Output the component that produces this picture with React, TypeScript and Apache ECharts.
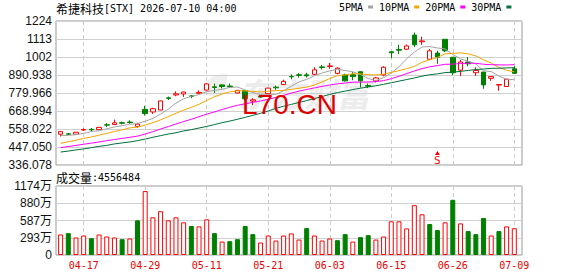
import React, { useEffect, useRef } from 'react';
import * as echarts from 'echarts';

const stockName = '希捷科技';
const titleRest = '[STX] 2026-07-10 04:00';
const volumeTitle = '成交量';

const dates = ['04-14','04-15','04-16','04-17','04-20','04-21','04-22','04-23','04-24','04-27','04-28','04-29','04-30','05-01','05-04','05-05','05-06','05-07','05-08','05-11','05-12','05-13','05-14','05-15','05-18','05-19','05-20','05-21','05-22','05-26','05-27','05-28','05-29','06-01','06-02','06-03','06-04','06-05','06-08','06-09','06-10','06-11','06-12','06-15','06-16','06-17','06-18','06-22','06-23','06-24','06-25','06-26','06-29','06-30','07-01','07-02','07-06','07-07','07-08','07-09'];
const xLabelDates = ['04-17','04-29','05-11','05-21','06-03','06-15','06-26','07-09'];

const opens = [526,528,526,552,556,554,584,586,597,601,574,679,663,675,750,768,774,762,778,798,818,830,823,780,796,730,758,776,816,832,882,892,892,895,941,943,901,891,893,911,826,855,891,1034,1048,1050,1137,1096,988,1026,1111,1000,921,971,905,909,871,829,820,929];
const closes = [542,526,538,554,553,568,582,596,594,598,588,653,683,731,747,775,786,760,784,836,814,820,818,796,744,738,755,810,812,852,880,889,886,923,937,947,933,855,881,855,822,873,939,1028,1044,1070,1077,1101,1040,1000,1040,905,971,960,919,830,881,832,865,901];
const lows = [512,521,524,546,544,552,570,584,586,590,566,641,651,674,737,760,756,748,778,796,780,808,814,776,734,705,752,774,800,830,865,875,875,891,925,929,895,851,859,814,810,845,883,996,1020,1046,1063,1077,984,960,1032,891,885,945,885,806,855,794,818,899];
const highs = [543,533,540,562,564,570,594,616,604,612,596,701,689,732,758,790,788,768,796,840,838,832,838,800,798,748,760,812,826,862,895,903,905,939,953,966,939,899,909,915,838,879,945,1036,1077,1079,1153,1127,1050,1040,1113,1002,984,1002,939,911,885,834,867,945];

// volume in 万 (10,000 shares)
const volumesWan = [349,372,298,332,286,349,315,298,269,281,590,1088,641,745,590,641,556,493,487,607,372,229,235,269,493,355,212,332,246,332,367,263,458,332,246,281,252,355,229,304,338,263,315,573,573,452,848,693,527,424,556,939,538,407,355,630,332,407,487,455.6484];

const ma5Lead = [517,519,523,531];
const ma10Lead = [470,479,489,500,509,520,531,543,553];
const ma20Lead = [443,450,457,464,471,478,486,493,500,507,514,527,542,558,573,589,604,618,634];
const ma30Lead = [416,422,429,435,443,451,457,466,472,478,486,496,507,517,527,535,546,554,564,574,585,597,607,618,630,642,655,669,685];

const priceTicks = [336.078,447.05,558.022,668.994,779.966,890.938,1001.91,1112.882,1223.854];
const priceTickLabels = ['336.078','447.050','558.022','668.994','779.966','890.938','1002','1113','1224'];
const volTickLabels = ['0','293万','587万','880万','1174万'];

const maNames = ['5PMA','10PMA','20PMA','30PMA'];
const maColors = ['#a3a3a3','#f5a500','#ff00ff','#00703c'];
const splitMarkIndex = 49;

const UP = '#ff0000';
const DOWN = '#008000';
const MONO = '"DejaVu Sans Mono", monospace';
const CJK = '"Noto Sans CJK SC", sans-serif';
const SANS = '"Liberation Sans", "Noto Sans CJK SC", sans-serif';

function movingAverage(n: number, lead: number[]) {
  return closes.map((_, i) => {
    if (i < n - 1) return lead[i];
    let s = 0;
    for (let k = i - n + 1; k <= i; k++) s += closes[k];
    return +(s / n).toFixed(3);
  });
}

export default function App() {
  const ref = useRef<HTMLDivElement>(null);
  useEffect(() => {
    const chart = echarts.init(ref.current!, undefined, { renderer: 'svg', width: 578, height: 276 });
    const mas = [movingAverage(5, ma5Lead), movingAverage(10, ma10Lead), movingAverage(20, ma20Lead), movingAverage(30, ma30Lead)];
    const xTickIdx = xLabelDates.map((d) => dates.indexOf(d));
    const lastVol = Math.round(volumesWan[volumesWan.length - 1] * 10000);

    const xBase = {
      type: 'value' as const,
      min: -0.6,
      max: 60,
      axisLine: { show: false },
      axisTick: { show: false, customValues: xTickIdx },
      splitLine: { show: true, lineStyle: { color: '#cccccc', type: [4, 3] as any, width: 1 } },
    };

    const richTitle = {
      c: { fontFamily: CJK, fontSize: 12, color: '#000', fontWeight: 'normal' },
      m: { fontFamily: MONO, fontSize: 10, color: '#000', fontWeight: 'normal' },
    };

    const option: any = {
      animation: false,
      backgroundColor: '#ffffff',
      title: [
        {
          text: `{c|${stockName}}{m|${titleRest}}`,
          left: 56, top: 2, padding: 0,
          textStyle: { fontWeight: 'normal', rich: richTitle },
        },
        {
          text: `{c|${volumeTitle}}{m|:${lastVol}}`,
          left: 56, top: 171, padding: 0,
          textStyle: { fontWeight: 'normal', rich: richTitle },
        },
      ],
      legend: {
        data: maNames,
        left: 339, top: 2, padding: 0,
        itemWidth: 5, itemHeight: 3, itemGap: 6,
        align: 'right', icon: 'rect', selectedMode: false,
        textStyle: { fontFamily: MONO, fontSize: 10, color: '#000' },
      },
      grid: [
        { left: 56, right: 56, top: 21, height: 144, show: true, borderColor: '#999999', borderWidth: 1 },
        { left: 56, right: 56, top: 186, height: 69, show: true, borderColor: '#999999', borderWidth: 1 },
      ],
      xAxis: [
        { ...xBase, gridIndex: 0, axisLabel: { show: false, customValues: xTickIdx } },
        {
          ...xBase, gridIndex: 1,
          axisLabel: {
            show: true, customValues: xTickIdx, margin: 5,
            formatter: (v: number) => dates[Math.round(v)],
            color: '#ee0000', fontFamily: MONO, fontSize: 10,
          },
        },
      ],
      yAxis: [
        {
          type: 'value', gridIndex: 0, min: priceTicks[0], max: priceTicks[priceTicks.length - 1],
          axisLine: { show: false },
          axisTick: { show: false, customValues: priceTicks },
          axisLabel: {
            customValues: priceTicks, margin: 4, color: '#111', fontFamily: SANS, fontSize: 12,
            formatter: (v: number) => {
              let best = 0;
              priceTicks.forEach((t, i) => { if (Math.abs(t - v) < Math.abs(priceTicks[best] - v)) best = i; });
              return priceTickLabels[best];
            },
          },
          splitLine: { show: true, lineStyle: { color: '#d0d0d0', width: 1 } },
        },
        {
          type: 'value', gridIndex: 1, min: 0, max: 1174, interval: 293.5,
          axisLine: { show: false }, axisTick: { show: false },
          axisLabel: {
            margin: 4, color: '#111', fontFamily: SANS, fontSize: 12,
            formatter: (_v: number, idx: number) => volTickLabels[idx],
          },
          splitLine: { show: true, lineStyle: { color: '#d0d0d0', width: 1 } },
        },
      ],
      series: [
        {
          type: 'candlestick', name: 'K', xAxisIndex: 0, yAxisIndex: 0, z: 3,
          barWidth: 5,
          data: closes.map((c, i) => [i, opens[i], c, lows[i], highs[i]]),
          itemStyle: { color: '#ffffff', color0: DOWN, borderColor: UP, borderColor0: DOWN, borderWidth: 1 },
          markPoint: {
            silent: true, animation: false,
            data: [{
              coord: [splitMarkIndex, priceTicks[0]],
              symbol: 'triangle', symbolSize: [5, 4], symbolOffset: [0, -12],
              itemStyle: { color: UP },
              label: { show: true, position: 'bottom', distance: 0, formatter: 'S', color: UP, fontSize: 11, fontFamily: MONO },
            }],
          },
        },
        ...maNames.map((name, k) => ({
          type: 'line', name, xAxisIndex: 0, yAxisIndex: 0, z: 4,
          symbol: 'none', showSymbol: false,
          data: mas[k].map((v, i) => [i, v]),
          lineStyle: { color: maColors[k], width: 1 },
          itemStyle: { color: maColors[k] },
        })),
        {
          type: 'bar', name: 'VOL', xAxisIndex: 1, yAxisIndex: 1, barWidth: 5,
          data: volumesWan.map((v, i) => {
            const up = i === 0 ? closes[0] >= opens[0] : closes[i] >= closes[i - 1];
            return {
              value: [i, v],
              itemStyle: up ? { color: '#ffffff', borderColor: UP, borderWidth: 1 } : { color: DOWN, borderColor: DOWN, borderWidth: 1 },
            };
          }),
        },
      ],
      graphic: [
        {
          type: 'sector', z: 0, silent: true,
          shape: { cx: 224, cy: 98, r: 24, r0: 5, startAngle: -Math.PI * 0.95, endAngle: -Math.PI * 0.45 },
          style: { fill: '#efefef' },
        },
        {
          type: 'text', left: 238, top: 76, z: 0, silent: true,
          style: { text: '东方财富', fontSize: 33, fontWeight: 'bold', fontStyle: 'italic', fill: '#ececec', fontFamily: CJK },
        },
        {
          type: 'text', left: 242, top: 90, z: 100, silent: true,
          style: { text: 'L70.CN', fontSize: 28, fill: '#e00000', fontFamily: '"Liberation Sans", Arial, sans-serif' },
        },
      ],
    };
    chart.setOption(option);
    return () => chart.dispose();
  }, []);
  return <div ref={ref} style={{ position: 'fixed', left: 0, top: 0, width: 578, height: 276, background: '#fff' }} />;
}
